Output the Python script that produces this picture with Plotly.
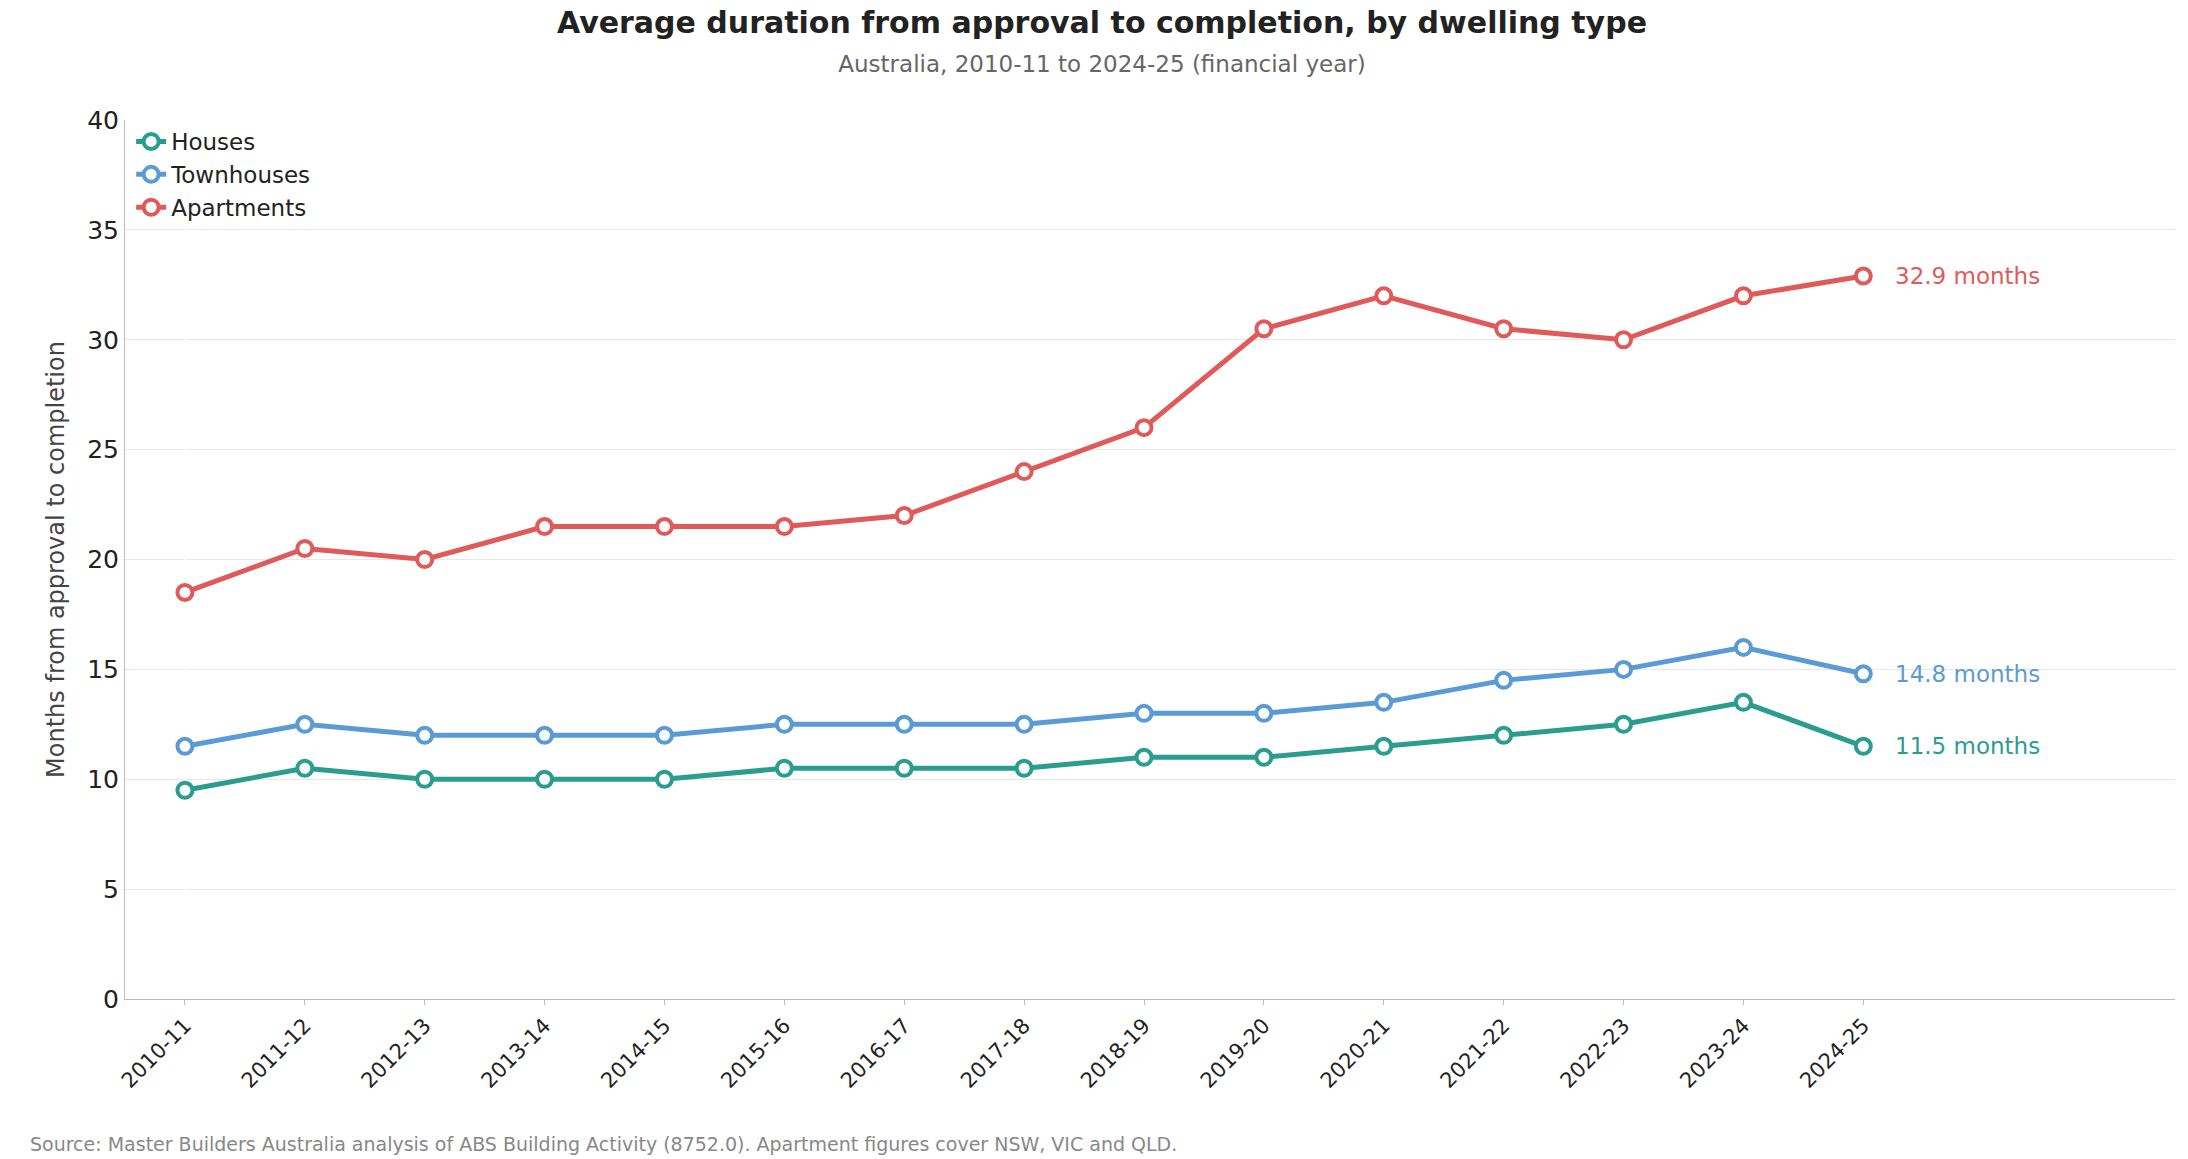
import plotly.graph_objects as go

years = ["2010-11", "2011-12", "2012-13", "2013-14", "2014-15", "2015-16", "2016-17", "2017-18",
         "2018-19", "2019-20", "2020-21", "2021-22", "2022-23", "2023-24", "2024-25"]
houses = [9.5, 10.5, 10, 10, 10, 10.5, 10.5, 10.5, 11, 11, 11.5, 12, 12.5, 13.5, 11.5]
townhouses = [11.5, 12.5, 12, 12, 12, 12.5, 12.5, 12.5, 13, 13, 13.5, 14.5, 15, 16, 14.8]
apartments = [18.5, 20.5, 20, 21.5, 21.5, 21.5, 22, 24, 26, 30.5, 32, 30.5, 30, 32, 32.9]

series = [("Houses", houses, "#2a9d8f"), ("Townhouses", townhouses, "#5b9bd5"), ("Apartments", apartments, "#e05a5a")]
xs = list(range(len(years)))

fig = go.Figure()
for name, vals, col in series:
    fig.add_trace(go.Scatter(x=xs, y=vals, name=name, mode="lines+markers",
                             line=dict(color=col, width=5),
                             marker=dict(size=15, color="white", line=dict(color=col, width=4))))
    fig.add_annotation(x=xs[-1] + 0.25, y=vals[-1], text=f"{vals[-1]} months", showarrow=False,
                       xanchor="left", font=dict(color=col, size=23))

fig.update_layout(
    width=2188, height=1159, plot_bgcolor="white", paper_bgcolor="white",
    font=dict(family="DejaVu Sans", size=23, color="#222"),
    margin=dict(l=117, r=21, t=112, b=168),
    title=dict(text="<b>Average duration from approval to completion, by dwelling type</b><br>"
                    "<span style='font-size:23px;color:#666'>Australia, 2010-11 to 2024-25 (financial year)</span>",
               x=0.5, xanchor="center", y=0.985, yanchor="top", pad=dict(t=8), font=dict(size=30, color="#222")),
    legend=dict(x=0.003, y=1.0, xanchor="left", yanchor="top", bgcolor="rgba(0,0,0,0)", font=dict(size=23)),
    showlegend=True,
)
fig.update_xaxes(range=[-0.5, 16.6], tickvals=xs, ticktext=years, tickangle=-45, showgrid=False,
                 showline=True, linecolor="#bbb", ticks="outside", tickcolor="#bbb", tickfont=dict(size=21))
fig.update_yaxes(range=[0, 40], dtick=5, showgrid=True, gridcolor="#e8e8e8", showline=True, linecolor="#bbb",
                 zeroline=False, title=dict(text="Months from approval to completion", font=dict(size=24, color="#444")),
                 tickfont=dict(size=25))
fig.add_annotation(x=0, xref="paper", y=-0.15, yref="paper", xshift=-97, xanchor="left", yanchor="top",
                   showarrow=False, font=dict(size=19, color="#888"),
                   text="Source: Master Builders Australia analysis of ABS Building Activity (8752.0). Apartment figures cover NSW, VIC and QLD.")
fig.write_html("out.html")
